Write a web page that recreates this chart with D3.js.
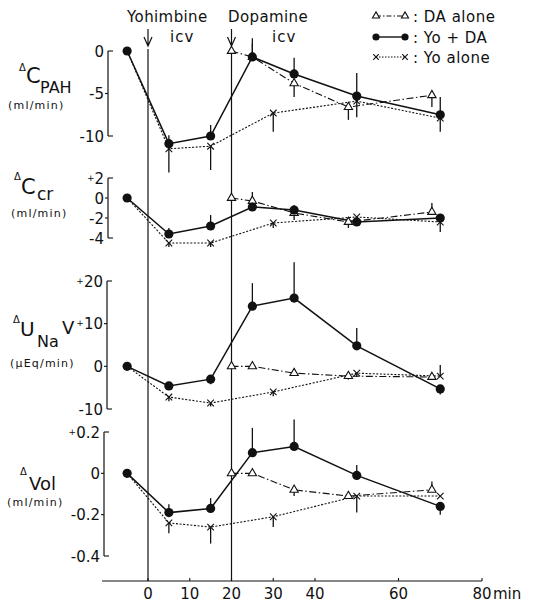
<!DOCTYPE html>
<html><head><meta charset="utf-8">
<script src="https://cdn.jsdelivr.net/npm/d3@7"></script>
<style>
body{margin:0;background:#fff}
text{font-family:"DejaVu Sans",sans-serif;fill:#111}
</style>
</head><body>
<svg id="c" width="534" height="607"></svg>
<script>
// ---- data ----
const tYoDA = [-5, 5, 15, 25, 35, 50, 70];
const tDA   = [20, 25, 35, 48, 68];
const tYo   = [-5, 5, 15, 30, 50, 70];

// ΔC_PAH (ml/min)
const cpahYoDA    = [0, -10.9, -10.0, -0.7, -2.7, -5.3, -7.5];
const cpahYoDAErr = [0, 1.0, 1.3, 2.2, 1.9, 2.7, 2.1];
const cpahDA      = [0, -0.7, -3.8, -6.6, -5.2];
const cpahDAErr   = [0, 1.6, -1.6, -1.5, -1.4];
const cpahYo      = [0, -11.5, -11.2, -7.3, -5.9, -7.9];
const cpahYoErr   = [0, -2.8, -2.8, -2.2, -1.9, -1.6];

// ΔC_cr (ml/min)
const ccrYoDA    = [0, -3.6, -2.8, -0.9, -1.2, -2.4, -2.0];
const ccrYoDAErr = [0, 0.6, 1.1, 0, 0.5, 0, 0];
const ccrDA      = [0, -0.3, -1.5, -2.4, -1.4];
const ccrDAErr   = [0, 0.9, -0.7, -0.6, 0.9];
const ccrYo      = [0, -4.5, -4.5, -2.5, -1.9, -2.4];
const ccrYoErr   = [0, -0.4, -0.4, -0.5, 0, -1.0];

// ΔU_Na V (µEq/min)
const unavYoDA    = [0, -4.6, -3.0, 14.1, 16.0, 4.8, -5.3];
const unavYoDAErr = [0, 0, -1.2, 5.4, 8.4, 4.2, -1.3];
const unavDA      = [0, 0, -1.6, -2.3, -2.5];
const unavDAErr   = [0, 0, 0, -0.8, 0];
const unavYo      = [0, -7.2, -8.6, -6.0, -1.6, -2.3];
const unavYoErr   = [0, -1.0, -0.8, -1.0, -0.9, 2.6];

// ΔVol (ml/min)
const volYoDA    = [0, -0.19, -0.17, 0.10, 0.13, -0.01, -0.16];
const volYoDAErr = [0, 0.04, 0.05, 0.12, 0.13, 0.05, -0.04];
const volDA      = [0, 0, -0.08, -0.11, -0.08];
const volDAErr   = [0, 0, -0.03, 0, 0.04];
const volYo      = [0, -0.24, -0.26, -0.21, -0.11, -0.11];
const volYoErr   = [0, -0.05, -0.08, -0.05, -0.08, 0];

// tick labels
const cpahTicks = [0, -5, -10],        cpahTickLabels = ["0", "-5", "-10"];
const ccrTicks  = [2, 0, -2, -4],      ccrTickLabels  = ["+2", "0", "-2", "-4"];
const unavTicks = [20, 10, 0, -10],    unavTickLabels = ["+20", "+10", "0", "-10"];
const volTicks  = [0.2, 0, -0.2, -0.4],volTickLabels  = ["+0.2", "0", "-0.2", "-0.4"];
const xTicks = [0, 10, 20, 30, 40, 60, 80];
const xTickLabels = ["0", "10", "20", "30", "40", "60", "80"];
const legendLabels = [": DA alone", ": Yo + DA", ": Yo alone"];

// ---- drawing ----
const svg = d3.select("#c");
const x = d3.scaleLinear().domain([0, 80]).range([148, 482]);
const axisY = 581;

const panels = [
  {dom:[-10,0], rng:[136,51], ax:108, ticks:cpahTicks, labels:cpahTickLabels,
   yoda:cpahYoDA, yodaE:cpahYoDAErr, da:cpahDA, daE:cpahDAErr, yo:cpahYo, yoE:cpahYoErr},
  {dom:[-4,2], rng:[238,178], ax:108, ticks:ccrTicks, labels:ccrTickLabels,
   yoda:ccrYoDA, yodaE:ccrYoDAErr, da:ccrDA, daE:ccrDAErr, yo:ccrYo, yoE:ccrYoErr},
  {dom:[-10,20], rng:[409,281], ax:107, ticks:unavTicks, labels:unavTickLabels,
   yoda:unavYoDA, yodaE:unavYoDAErr, da:unavDA, daE:unavDAErr, yo:unavYo, yoE:unavYoErr},
  {dom:[-0.4,0.2], rng:[556,432], ax:104, ticks:volTicks, labels:volTickLabels,
   yoda:volYoDA, yodaE:volYoDAErr, da:volDA, daE:volDAErr, yo:volYo, yoE:volYoErr}
];

const ink = "#111";
const dashDA = "7,2.5,1.5,2.5";
const dashYo = "2,1.6";

function tri(g, cx, cy, s) {
  g.append("path").attr("d", d3.symbol(d3.symbolTriangle, s)())
   .attr("transform", `translate(${cx},${cy})`)
   .attr("fill", "#fff").attr("stroke", ink).attr("stroke-width", 1.1);
}
function cross(g, cx, cy, h) {
  g.append("path").attr("d", `M${cx-h},${cy-h}L${cx+h},${cy+h}M${cx+h},${cy-h}L${cx-h},${cy+h}`)
   .attr("stroke", ink).attr("stroke-width", 1.1).attr("fill", "none");
}
function dot(g, cx, cy, r) {
  g.append("circle").attr("cx", cx).attr("cy", cy).attr("r", r).attr("fill", ink);
}

// vertical injection lines
[0, 20].forEach(t => {
  svg.append("line").attr("x1", x(t)).attr("x2", x(t)).attr("y1", 49).attr("y2", axisY)
     .attr("stroke", ink).attr("stroke-width", 1.2);
  svg.append("path")
     .attr("d", `M${x(t)},29L${x(t)},46M${x(t)-4},37L${x(t)},46L${x(t)+4},37`)
     .attr("stroke", ink).attr("stroke-width", 1.2).attr("fill", "none");
});
svg.append("text").attr("x", 127).attr("y", 22).attr("font-size", 15).attr("letter-spacing", 0.4).text("Yohimbine");
svg.append("text").attr("x", 170).attr("y", 42).attr("font-size", 15).attr("letter-spacing", 1).text("icv");
svg.append("text").attr("x", 228).attr("y", 22).attr("font-size", 15).attr("letter-spacing", 0.4).text("Dopamine");
svg.append("text").attr("x", 272).attr("y", 42).attr("font-size", 15).attr("letter-spacing", 1).text("icv");

panels.forEach(p => {
  const y = d3.scaleLinear().domain(p.dom).range(p.rng);
  const g = svg.append("g");
  // y axis
  const top = y(p.dom[1]), bot = y(p.dom[0]);
  g.append("line").attr("x1", p.ax).attr("x2", p.ax).attr("y1", top).attr("y2", bot)
   .attr("stroke", ink).attr("stroke-width", 1.2);
  p.ticks.forEach((v, i) => {
    const yy = y(v);
    const end = (v === p.dom[0] || v === p.dom[1]);
    g.append("line").attr("x1", end ? p.ax : p.ax - 3).attr("x2", end ? p.ax + 5 : p.ax)
     .attr("y1", yy).attr("y2", yy).attr("stroke", ink).attr("stroke-width", 1.1);
    const lab = p.labels[i];
    const tx = g.append("text").attr("x", p.ax - 4).attr("y", yy + 5.5)
     .attr("text-anchor", "end").attr("font-size", 15);
    if (lab[0] === "+") {
      tx.append("tspan").attr("font-size", 9).attr("dy", -3).text("+");
      tx.append("tspan").attr("dy", 3).text(lab.slice(1));
    } else tx.text(lab);
  });

  const sYoDA = tYoDA.map((t, i) => ({t, v:p.yoda[i], e:p.yodaE[i]}));
  const sDA   = tDA.map((t, i) => ({t, v:p.da[i], e:p.daE[i]}));
  const sYo   = tYo.map((t, i) => ({t, v:p.yo[i], e:p.yoE[i]}));
  const line = d3.line().x(d => x(d.t)).y(d => y(d.v));

  g.append("path").attr("d", line(sYo)).attr("fill", "none").attr("stroke", ink)
   .attr("stroke-width", 1.1).attr("stroke-dasharray", dashYo);
  g.append("path").attr("d", line(sDA)).attr("fill", "none").attr("stroke", ink)
   .attr("stroke-width", 1.1).attr("stroke-dasharray", dashDA);
  g.append("path").attr("d", line(sYoDA)).attr("fill", "none").attr("stroke", ink)
   .attr("stroke-width", 1.5);

  [sYo, sDA, sYoDA].forEach(s => s.forEach(d => {
    if (d.e) g.append("line").attr("x1", x(d.t)).attr("x2", x(d.t))
      .attr("y1", y(d.v)).attr("y2", y(d.v + d.e)).attr("stroke", ink).attr("stroke-width", 1.3);
  }));

  sYo.filter(d => d.t > -5).forEach(d => cross(g, x(d.t), y(d.v), 3.3));
  sDA.forEach(d => tri(g, x(d.t), y(d.v), 30));
  sYoDA.forEach(d => dot(g, x(d.t), y(d.v), 4.6));
});

// x axis
svg.append("line").attr("x1", 102).attr("x2", x(80)).attr("y1", axisY).attr("y2", axisY)
   .attr("stroke", ink).attr("stroke-width", 1.2);
xTicks.forEach((t, i) => {
  svg.append("line").attr("x1", x(t)).attr("x2", x(t)).attr("y1", axisY).attr("y2", axisY - 3)
     .attr("stroke", ink).attr("stroke-width", 1.1);
  svg.append("text").attr("x", x(t)).attr("y", axisY + 18).attr("text-anchor", "middle")
     .attr("font-size", 15).text(xTickLabels[i]);
});
svg.append("text").attr("x", x(80) + 11).attr("y", axisY + 18).attr("font-size", 15).text("min");

// left labels
function lab(parts) {
  const t = svg.append("text");
  parts.forEach(p => t.append("tspan").attr("x", p.x).attr("y", p.y).attr("font-size", p.s).text(p.t));
}
function unit(xx, yy, s) {
  svg.append("text").attr("x", xx).attr("y", yy).attr("font-size", 11)
     .attr("letter-spacing", 1.2).text(s);
}
lab([{t:"Δ",x:19,y:71,s:10},{t:"C",x:26,y:83,s:21},{t:"PAH",x:40,y:93,s:16}]);
unit(8, 109, "(ml/min)");
lab([{t:"Δ",x:14,y:180,s:10},{t:"C",x:21,y:194,s:21},{t:"cr",x:37,y:200,s:17}]);
unit(11, 217, "(ml/min)");
lab([{t:"Δ",x:13,y:323,s:10},{t:"U",x:20,y:336,s:20},{t:"Na",x:37,y:347,s:16},{t:"V",x:62,y:334,s:18}]);
unit(10, 367, "(μEq/min)");
lab([{t:"Δ",x:20,y:475,s:10},{t:"Vol",x:29,y:490,s:18}]);
unit(7, 506, "(ml/min)");

// legend
const lg = svg.append("g");
const lx1 = 376, lx2 = 405, rows = [16, 37, 57];
lg.append("line").attr("x1", lx1).attr("x2", lx2).attr("y1", rows[0]).attr("y2", rows[0])
  .attr("stroke", ink).attr("stroke-width", 1.1).attr("stroke-dasharray", "5,2,1.5,2");
tri(lg, lx1, rows[0], 22); tri(lg, lx2, rows[0], 22);
lg.append("line").attr("x1", lx1).attr("x2", lx2).attr("y1", rows[1]).attr("y2", rows[1])
  .attr("stroke", ink).attr("stroke-width", 1.4);
dot(lg, lx1, rows[1], 3.6); dot(lg, lx2, rows[1], 3.6);
lg.append("line").attr("x1", lx1).attr("x2", lx2).attr("y1", rows[2]).attr("y2", rows[2])
  .attr("stroke", ink).attr("stroke-width", 1).attr("stroke-dasharray", "1.5,1.5");
cross(lg, lx1, rows[2], 2.8); cross(lg, lx2, rows[2], 2.8);
legendLabels.forEach((s, i) => {
  lg.append("text").attr("x", 413).attr("y", rows[i] + 5.5).attr("font-size", 15)
    .attr("letter-spacing", 0.5).text(s);
});
</script>
</body></html>
